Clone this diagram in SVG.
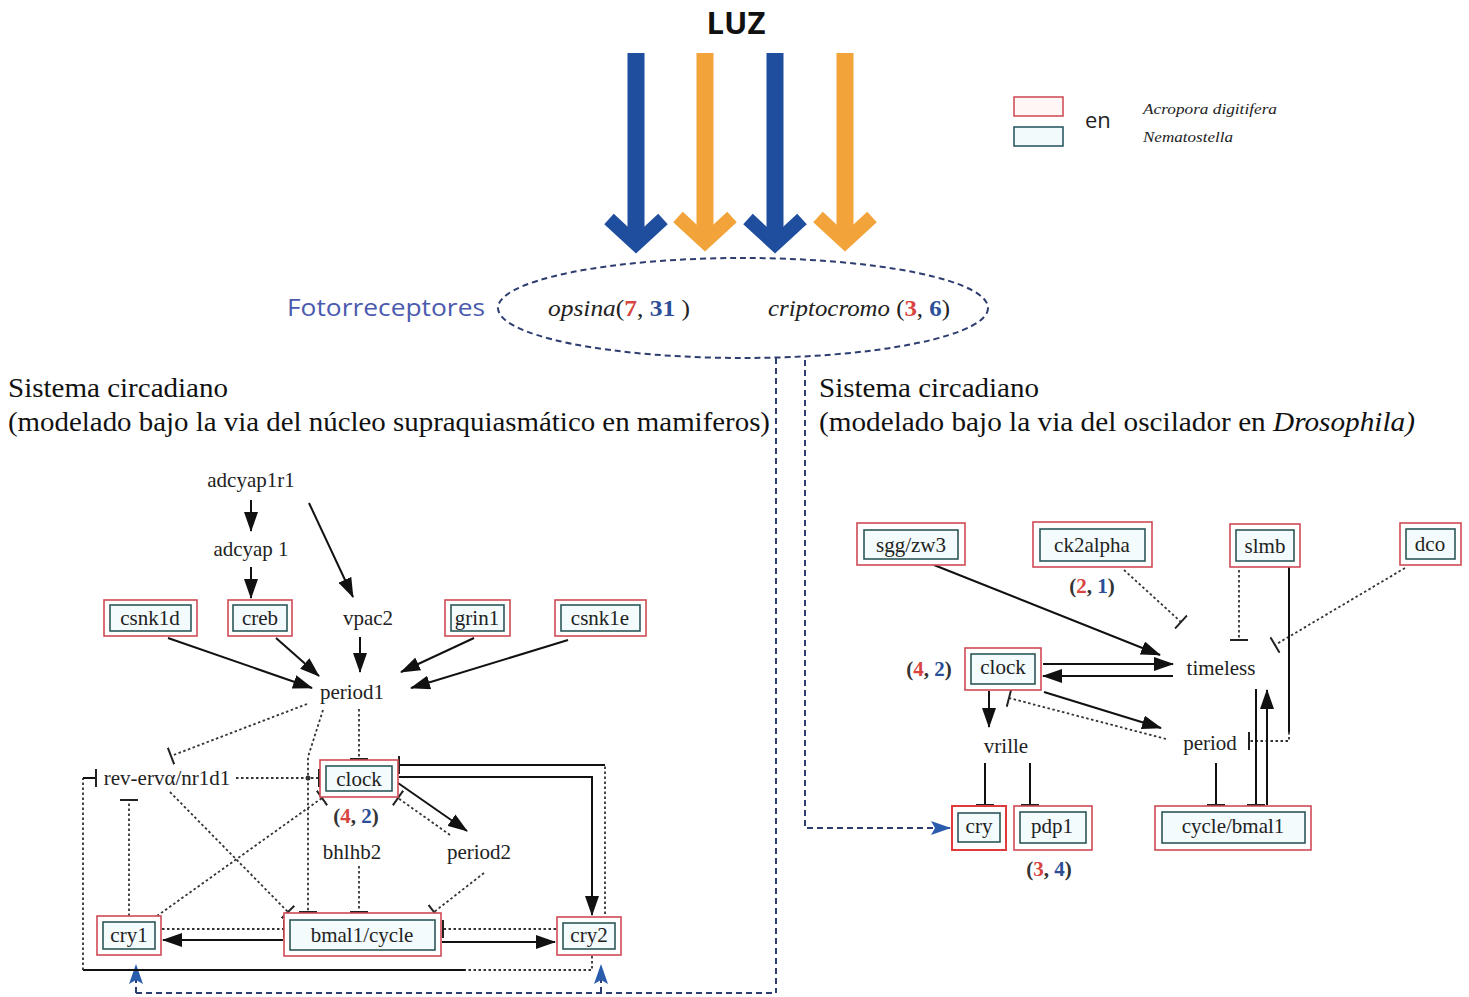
<svg xmlns="http://www.w3.org/2000/svg" width="1469" height="997" viewBox="0 0 1469 997">
  <style>
    .lbl { font-family: "Liberation Serif", "Times New Roman", serif; font-size: 21px; fill: #222; text-anchor: middle; }
    .num { font-family: "Liberation Serif", "Times New Roman", serif; font-size: 21px; font-weight: bold; fill: #333; text-anchor: middle; }
    .red { fill: #d8453f; }
    .blu { fill: #2c4f98; }
    .title { font-family: "Liberation Serif", "Times New Roman", serif; font-size: 27px; fill: #111; }
    .outer { fill: #fff; stroke: #cf4a55; stroke-width: 1.6; }
    .inner { fill: #f3fbfc; stroke: #2c5858; stroke-width: 1.6; }
    .solid { fill: none; stroke: #111; stroke-width: 2; }
    .dot { fill: none; stroke: #333; stroke-width: 1.8; stroke-dasharray: 2.5 2.5; }
    .nav { fill: none; stroke: #2e3d70; stroke-width: 2; stroke-dasharray: 6 4; }
    .lbar { stroke-width: 17; stroke-linecap: butt; fill: none; }
    .lhead { stroke-width: 14; stroke-linecap: butt; stroke-linejoin: miter; stroke-miterlimit: 4; fill: none; }
  </style>
  <defs>
    <marker id="arr" viewBox="0 0 20 14" refX="19" refY="7" markerWidth="20" markerHeight="14" orient="auto" markerUnits="userSpaceOnUse">
      <path d="M0,0 L20,7 L0,14 Z" fill="#111"/>
    </marker>
    <marker id="tee" viewBox="0 0 4 18" refX="2" refY="9" markerWidth="4" markerHeight="18" orient="auto" markerUnits="userSpaceOnUse">
      <line x1="2" y1="0" x2="2" y2="18" stroke="#222" stroke-width="2"/>
    </marker>
    <marker id="blueArr" viewBox="0 0 20 14" refX="19" refY="7" markerWidth="20" markerHeight="14" orient="auto" markerUnits="userSpaceOnUse">
      <path d="M0,0 L20,7 L0,14 L4,7 Z" fill="#2a5cad"/>
    </marker>
  </defs>

  <rect width="1469" height="997" fill="#fff"/>

  <!-- light source -->
  <g id="luz">
    <text x="736" y="34" font-family="'Open Sans', 'Liberation Sans', sans-serif" font-size="31" font-weight="bold" fill="#111" text-anchor="middle">LUZ</text>
    <line class="lbar" x1="636" y1="53" x2="636" y2="240" stroke="#1f4e9f"/>
    <polyline class="lhead" points="609,219 636,244 663,219" stroke="#1f4e9f"/>
    <line class="lbar" x1="705" y1="53" x2="705" y2="238" stroke="#f2a33a"/>
    <polyline class="lhead" points="678,217 705,242 732,217" stroke="#f2a33a"/>
    <line class="lbar" x1="775" y1="53" x2="775" y2="240" stroke="#1f4e9f"/>
    <polyline class="lhead" points="748,219 775,244 802,219" stroke="#1f4e9f"/>
    <line class="lbar" x1="845" y1="53" x2="845" y2="238" stroke="#f2a33a"/>
    <polyline class="lhead" points="818,217 845,242 872,217" stroke="#f2a33a"/>
  </g>

  <!-- legend -->
  <g id="legend">
    <rect x="1014" y="97" width="49" height="19" fill="#fff6f6" stroke="#d0525a" stroke-width="1.6"/>
    <rect x="1014" y="127" width="49" height="19" fill="#f2fafc" stroke="#2c5a66" stroke-width="1.6"/>
    <text x="1085" y="128" font-family="'Open Sans', 'Liberation Sans', sans-serif" font-size="22" fill="#222">en</text>
    <text x="1143" y="114" font-family="'Liberation Serif', serif" font-size="15" font-style="italic" fill="#222" textLength="134" lengthAdjust="spacingAndGlyphs">Acropora digitifera</text>
    <text x="1143" y="142" font-family="'Liberation Serif', serif" font-size="15" font-style="italic" fill="#222" textLength="90" lengthAdjust="spacingAndGlyphs">Nematostella</text>
  </g>

  <!-- photoreceptors -->
  <g id="fotorreceptores">
    <text x="287" y="316" font-family="'Open Sans', 'Liberation Sans', sans-serif" font-size="23" fill="#4b5aae" textLength="198" lengthAdjust="spacingAndGlyphs">Fotorreceptores</text>
    <ellipse cx="743" cy="308" rx="245" ry="50" class="nav" stroke-dasharray="5 4"/>
    <text x="548" y="316" font-family="'Liberation Serif', serif" font-size="23" fill="#222" textLength="142" lengthAdjust="spacingAndGlyphs"><tspan font-style="italic">opsina</tspan>(<tspan class="red" font-weight="bold">7</tspan>, <tspan class="blu" font-weight="bold">31</tspan> )</text>
    <text x="768" y="316" font-family="'Liberation Serif', serif" font-size="23" fill="#222" textLength="182" lengthAdjust="spacingAndGlyphs"><tspan font-style="italic">criptocromo</tspan> (<tspan class="red" font-weight="bold">3</tspan>, <tspan class="blu" font-weight="bold">6</tspan>)</text>
  </g>

  <!-- section titles -->
  <g id="titles">
    <text class="title" x="8" y="397" textLength="220" lengthAdjust="spacingAndGlyphs">Sistema circadiano</text>
    <text class="title" x="8" y="431" textLength="762" lengthAdjust="spacingAndGlyphs">(modelado bajo la via del núcleo supraquiasmático en mamiferos)</text>
    <text class="title" x="819" y="397" textLength="220" lengthAdjust="spacingAndGlyphs">Sistema circadiano</text>
    <text class="title" x="819" y="431" textLength="596" lengthAdjust="spacingAndGlyphs">(modelado bajo la via del oscilador en <tspan font-style="italic">Drosophila)</tspan></text>
  </g>

  <!-- connectors -->
  <g id="connectors">
    <!-- light input paths -->
    <line class="nav" x1="776" y1="358" x2="776" y2="993"/>
    <polyline class="nav" points="805,360 805,828 950,828" marker-end="url(#blueArr)"/>
    <line class="nav" x1="136" y1="993" x2="776" y2="993"/>
    <line class="nav" x1="136" y1="993" x2="136" y2="965" stroke-dasharray="none" marker-end="url(#blueArr)"/>
    <line class="nav" x1="601" y1="993" x2="601" y2="965" stroke-dasharray="none" marker-end="url(#blueArr)"/>

    <!-- mammalian pathway -->
    <line class="solid" x1="251" y1="500" x2="251" y2="531" marker-end="url(#arr)"/>
    <line class="solid" x1="251" y1="567" x2="251" y2="598" marker-end="url(#arr)"/>
    <line class="solid" x1="309" y1="503" x2="353" y2="597" marker-end="url(#arr)"/>
    <line class="solid" x1="360" y1="637" x2="360" y2="672" marker-end="url(#arr)"/>
    <line class="solid" x1="168" y1="638" x2="312" y2="688" marker-end="url(#arr)"/>
    <line class="solid" x1="276" y1="638" x2="319" y2="676" marker-end="url(#arr)"/>
    <line class="solid" x1="474" y1="638" x2="401" y2="672" marker-end="url(#arr)"/>
    <line class="solid" x1="568" y1="640" x2="411" y2="688" marker-end="url(#arr)"/>

    <line class="dot" x1="307" y1="704" x2="171" y2="756" marker-end="url(#tee)"/>
    <line class="dot" x1="359" y1="709" x2="359" y2="759" marker-end="url(#tee)"/>
    <polyline class="dot" points="323,710 308,757 308,912" marker-end="url(#tee)"/>
    <line class="dot" x1="236" y1="778" x2="319" y2="778" marker-end="url(#tee)"/>
    <circle cx="308" cy="778" r="2.5" fill="#333"/>

    <line class="solid" x1="398" y1="783" x2="467" y2="831" marker-end="url(#arr)"/>
    <line class="dot" x1="450" y1="835" x2="398" y2="798" marker-end="url(#tee)"/>
    <line class="dot" x1="157" y1="916" x2="322" y2="798" marker-end="url(#tee)"/>
    <line class="dot" x1="170" y1="792" x2="288" y2="912" marker-end="url(#tee)"/>
    <line class="dot" x1="484" y1="873" x2="434" y2="912" marker-end="url(#tee)"/>
    <line class="dot" x1="359" y1="866" x2="359" y2="912" marker-end="url(#tee)"/>
    <line class="dot" x1="129" y1="916" x2="129" y2="800" marker-end="url(#tee)"/>

    <line class="solid" x1="283" y1="940" x2="163" y2="940" marker-end="url(#arr)"/>
    <line class="dot" x1="162" y1="929" x2="284" y2="929" marker-end="url(#tee)"/>
    <line class="solid" x1="442" y1="942" x2="555" y2="942" marker-end="url(#arr)"/>
    <line class="dot" x1="556" y1="929" x2="443" y2="929" marker-end="url(#tee)"/>

    <polyline class="solid" points="399,777 592,777 592,915" marker-end="url(#arr)"/>
    <line class="dot" x1="605" y1="914" x2="605" y2="765"/>
    <line class="solid" x1="605" y1="765" x2="399" y2="765" marker-end="url(#tee)"/>
    <polyline class="dot" points="592,956 592,970 465,970"/>
    <line class="solid" x1="465" y1="970" x2="83" y2="970"/>
    <line class="dot" x1="83" y1="970" x2="83" y2="778"/>
    <line class="solid" x1="83" y1="778" x2="96" y2="778" marker-end="url(#tee)"/>

    <!-- Drosophila pathway -->
    <line class="solid" x1="934" y1="565" x2="1160" y2="655" marker-end="url(#arr)"/>
    <line class="dot" x1="1124" y1="570" x2="1181" y2="622" marker-end="url(#tee)"/>
    <line class="dot" x1="1239" y1="570" x2="1239" y2="640" marker-end="url(#tee)"/>
    <line class="dot" x1="1405" y1="568" x2="1275" y2="645" marker-end="url(#tee)"/>
    <line class="solid" x1="1289" y1="567" x2="1289" y2="732" stroke-width="1.6"/>
    <polyline class="dot" points="1289,732 1289,741 1249,741" marker-end="url(#tee)"/>

    <line class="solid" x1="1043" y1="664" x2="1173" y2="664" marker-end="url(#arr)"/>
    <line class="solid" x1="1173" y1="676" x2="1043" y2="676" marker-end="url(#arr)"/>
    <line class="solid" x1="989" y1="691" x2="989" y2="727" marker-end="url(#arr)"/>
    <line class="solid" x1="1044" y1="692" x2="1161" y2="728" marker-end="url(#arr)"/>
    <line class="dot" x1="1166" y1="739" x2="1009" y2="698" marker-end="url(#tee)"/>

    <line class="solid" x1="985" y1="763" x2="985" y2="805" stroke-width="1.6" marker-end="url(#tee)"/>
    <line class="solid" x1="1030" y1="763" x2="1030" y2="805" stroke-width="1.6" marker-end="url(#tee)"/>
    <line class="solid" x1="1216" y1="763" x2="1216" y2="805" stroke-width="1.6" marker-end="url(#tee)"/>
    <line class="solid" x1="1256" y1="689" x2="1256" y2="805" stroke-width="1.6" marker-end="url(#tee)"/>
    <line class="solid" x1="1267" y1="805" x2="1267" y2="690" marker-end="url(#arr)"/>
  </g>

  <!-- mammalian nodes -->
  <g id="m-adcyap1r1"><text class="lbl" x="251" y="487">adcyap1r1</text></g>
  <g id="m-adcyap1"><text class="lbl" x="251" y="556">adcyap 1</text></g>
  <g id="m-vpac2"><text class="lbl" x="368" y="625">vpac2</text></g>
  <g id="m-csnk1d">
    <rect class="outer" x="104" y="600" width="93" height="36"/>
    <rect class="inner" x="110" y="605" width="81" height="26"/>
    <text class="lbl" x="150" y="625">csnk1d</text>
  </g>
  <g id="m-creb">
    <rect class="outer" x="228" y="600" width="64" height="36"/>
    <rect class="inner" x="233" y="605" width="54" height="26"/>
    <text class="lbl" x="260" y="625">creb</text>
  </g>
  <g id="m-grin1">
    <rect class="outer" x="445" y="600" width="65" height="36"/>
    <rect class="inner" x="451" y="605" width="53" height="26"/>
    <text class="lbl" x="477" y="625">grin1</text>
  </g>
  <g id="m-csnk1e">
    <rect class="outer" x="555" y="600" width="91" height="36"/>
    <rect class="inner" x="561" y="605" width="79" height="26"/>
    <text class="lbl" x="600" y="625">csnk1e</text>
  </g>
  <g id="m-period1"><text class="lbl" x="352" y="699">period1</text></g>
  <g id="m-reverb"><text class="lbl" x="167" y="785">rev-ervα/nr1d1</text></g>
  <g id="m-clock">
    <rect class="outer" x="320" y="760" width="78" height="37"/>
    <rect class="inner" x="326" y="766" width="66" height="25"/>
    <text class="lbl" x="359" y="786">clock</text>
    <text class="num" x="356" y="823">(<tspan class="red">4</tspan>, <tspan class="blu">2</tspan>)</text>
  </g>
  <g id="m-bhlhb2"><text class="lbl" x="352" y="859">bhlhb2</text></g>
  <g id="m-period2"><text class="lbl" x="479" y="859">period2</text></g>
  <g id="m-cry1">
    <rect class="outer" x="97" y="916" width="64" height="39"/>
    <rect class="inner" x="103" y="922" width="52" height="27"/>
    <text class="lbl" x="129" y="942">cry1</text>
  </g>
  <g id="m-bmal1">
    <rect class="outer" x="284" y="913" width="157" height="43"/>
    <rect class="inner" x="290" y="920" width="145" height="30"/>
    <text class="lbl" x="362" y="942">bmal1/cycle</text>
  </g>
  <g id="m-cry2">
    <rect class="outer" x="557" y="917" width="64" height="38"/>
    <rect class="inner" x="563" y="923" width="52" height="26"/>
    <text class="lbl" x="589" y="942">cry2</text>
  </g>

  <!-- Drosophila nodes -->
  <g id="d-sgg">
    <rect class="outer" x="857" y="523" width="108" height="42"/>
    <rect class="inner" x="864" y="530" width="94" height="29"/>
    <text class="lbl" x="911" y="552">sgg/zw3</text>
  </g>
  <g id="d-ck2alpha">
    <rect class="outer" x="1033" y="522" width="119" height="45"/>
    <rect class="inner" x="1040" y="529" width="105" height="32"/>
    <text class="lbl" x="1092" y="552">ck2alpha</text>
    <text class="num" x="1092" y="593">(<tspan class="red">2</tspan>, <tspan class="blu">1</tspan>)</text>
  </g>
  <g id="d-slmb">
    <rect class="outer" x="1230" y="524" width="70" height="43"/>
    <rect class="inner" x="1236" y="530" width="58" height="31"/>
    <text class="lbl" x="1265" y="553">slmb</text>
  </g>
  <g id="d-dco">
    <rect class="outer" x="1400" y="523" width="61" height="42"/>
    <rect class="inner" x="1406" y="529" width="49" height="30"/>
    <text class="lbl" x="1430" y="551">dco</text>
  </g>
  <g id="d-timeless"><text class="lbl" x="1221" y="675">timeless</text></g>
  <g id="d-clock">
    <rect class="outer" x="965" y="648" width="76" height="42"/>
    <rect class="inner" x="971" y="654" width="64" height="30"/>
    <text class="lbl" x="1003" y="674">clock</text>
    <text class="num" x="929" y="676">(<tspan class="red">4</tspan>, <tspan class="blu">2</tspan>)</text>
  </g>
  <g id="d-vrille"><text class="lbl" x="1006" y="753">vrille</text></g>
  <g id="d-period"><text class="lbl" x="1210" y="750">period</text></g>
  <g id="d-cry">
    <rect x="952" y="806" width="54" height="44" fill="#fff" stroke="#e03a3a" stroke-width="2"/>
    <rect class="inner" x="958" y="813" width="42" height="29"/>
    <text class="lbl" x="979" y="833">cry</text>
  </g>
  <g id="d-pdp1">
    <rect class="outer" x="1014" y="806" width="78" height="44"/>
    <rect class="inner" x="1020" y="812" width="66" height="31"/>
    <text class="lbl" x="1052" y="833">pdp1</text>
    <text class="num" x="1049" y="876">(<tspan class="red">3</tspan>, <tspan class="blu">4</tspan>)</text>
  </g>
  <g id="d-cycle">
    <rect class="outer" x="1155" y="806" width="156" height="44"/>
    <rect class="inner" x="1162" y="812" width="143" height="31"/>
    <text class="lbl" x="1233" y="833">cycle/bmal1</text>
  </g>
</svg>
